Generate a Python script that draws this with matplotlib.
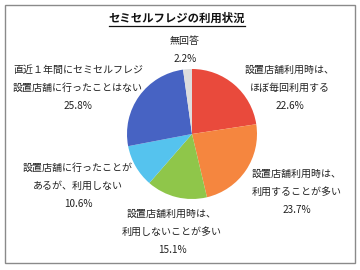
import matplotlib
matplotlib.use("Agg")
import matplotlib.pyplot as plt
from matplotlib.patches import Rectangle
from matplotlib.lines import Line2D

plt.rcParams['font.family'] = ['Noto Sans CJK JP', 'DejaVu Sans']

title = "セミセルフレジの利用状況"
categories = ["設置店舗利用時は、\nほぼ毎回利用する",
              "設置店舗利用時は、\n利用することが多い",
              "設置店舗利用時は、\n利用しないことが多い",
              "設置店舗に行ったことが\nあるが、利用しない",
              "直近１年間にセミセルフレジ\n設置店舗に行ったことはない",
              "無回答"]
values = [22.6, 23.7, 15.1, 10.6, 25.8, 2.2]
colors = ["#E94A3C", "#F5863F", "#8FC64A", "#55C3EE", "#4763C3", "#DDDDDD"]
label_pos = [(290, 88), (297, 192), (172, 232), (78, 186), (78, 88), (185, 50)]

W, H = 360, 270
fig = plt.figure(figsize=(3.6, 2.7), dpi=100)
fig.patch.set_facecolor("white")

# border
fig.add_artist(Rectangle((5 / W, 1 - 263 / H), 350 / W, 258 / H, transform=fig.transFigure,
                         fill=False, edgecolor="#8a8a8a", linewidth=1.0))

cx, cy, r = 192, 134, 65
ax = fig.add_axes([(cx - r) / W, 1 - (cy + r) / H, 2 * r / W, 2 * r / H])
ax.pie(values, colors=colors, startangle=90, counterclock=False,
       wedgeprops=dict(edgecolor="none"))
ax.set_xlim(-1, 1)
ax.set_ylim(-1, 1)
ax.set_axis_off()

# title with underline
t = fig.text(177 / W, 1 - 18 / H, title, ha="center", va="center",
             fontsize=8.2, fontweight="bold", color="#111111")
fig.canvas.draw()
bb = t.get_window_extent()
fig.add_artist(Line2D([bb.x0 / W, bb.x1 / W], [1 - 25.5 / H, 1 - 25.5 / H],
                      transform=fig.transFigure, color="#111111", linewidth=0.9))

for cat, v, (x, y) in zip(categories, values, label_pos):
    fig.text(x / W, 1 - y / H, f"{cat}\n{v:.1f}%", ha="center", va="center",
             fontsize=7.2, color="#222222", linespacing=2.0)

fig.savefig("out.png", dpi=100)
